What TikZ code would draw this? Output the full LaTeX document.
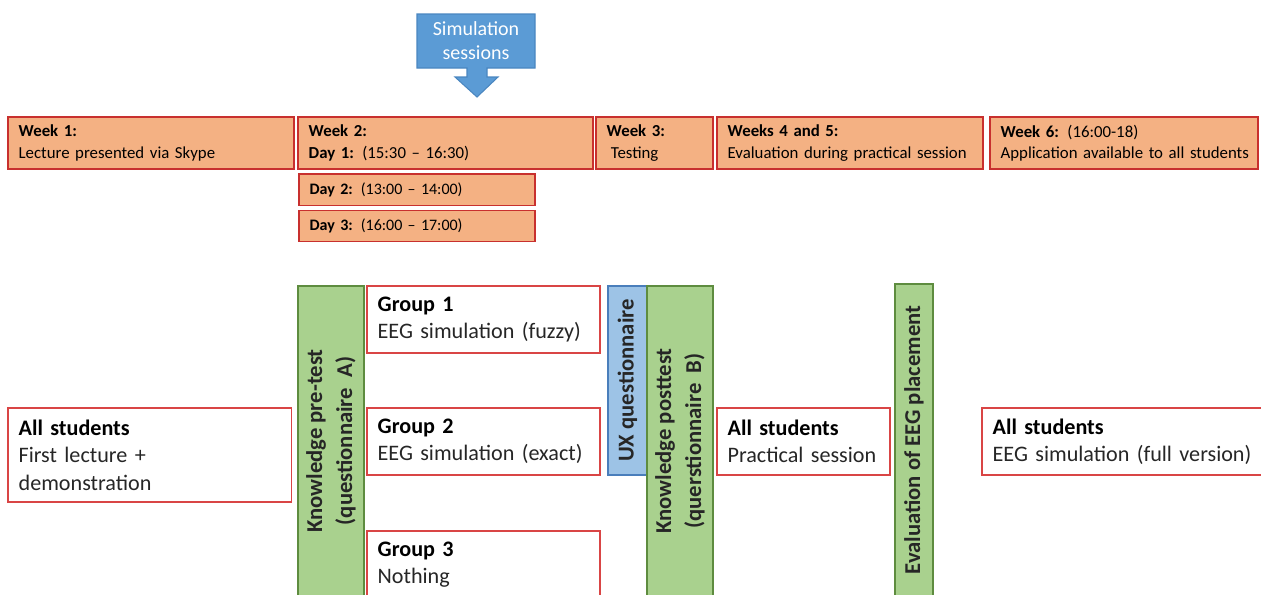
\documentclass[tikz,border=0pt]{standalone}
\usepackage{fontspec}
\setmainfont{Carlito}
\usetikzlibrary{positioning}

\definecolor{weekfill}{HTML}{F4B183}
\definecolor{weekline}{HTML}{C8302E}
\definecolor{groupline}{HTML}{D94545}
\definecolor{testfill}{HTML}{A9D18E}
\definecolor{testline}{HTML}{5E8C3F}
\definecolor{uxfill}{HTML}{9DC3E6}
\definecolor{uxline}{HTML}{4A7EBB}
\definecolor{simfill}{HTML}{5B9BD5}
\definecolor{simline}{HTML}{4A86C0}
\definecolor{bodytext}{HTML}{262626}

\begin{document}
\begin{tikzpicture}[
        x=0.75pt, y=-0.75pt,
        every node/.style={inner sep=0pt, outer sep=0pt},
        week/.style={draw=weekline, fill=weekfill, line width=0.9pt, align=left,
            inner xsep=8pt, text width=#1, minimum height=39pt,
            font=\fontsize{12.6}{16}\selectfont},
        day/.style={week=161pt, minimum height=23.5pt, font=\fontsize{12}{16}\selectfont},
        group/.style={draw=groupline, fill=white, line width=0.9pt, align=left,
            inner xsep=8pt, text width=#1, minimum height=50.25pt,
            text=bodytext, font=\fontsize{16.6}{20.5}\selectfont},
        testbar/.style={draw=testline, fill=testfill, line width=0.9pt, rotate=90,
            align=center, font=\fontsize{17}{22.5}\selectfont\bfseries, text=bodytext},
        uxbar/.style={testbar, draw=uxline, fill=uxfill}
    ]
    \clip (0,0) rectangle (1261,594);

    % simulation sessions callout
    \filldraw[fill=simfill, draw=simline, line width=0.8pt]
        (417,14) -- (535,14) -- (535,68) -- (487,68) -- (487,77) -- (498,77)
        -- (477,97) -- (455,77) -- (467,77) -- (467,68) -- (417,68) -- cycle;
    \node[text=white, align=center, font=\fontsize{15}{18}\selectfont] (sim) at (476,41) {Simulation\\sessions};

    % weeks
    \node[week=198.5pt, anchor=north west] (week1) at (8,117) {\textbf{Week 1:}\\Lecture presented via Skype};
    \node[week=205.25pt, right=3pt of week1.north east, anchor=north west] (week2) {\textbf{Week 2:}\\\textbf{Day 1:} (15:30 -- 16:30)};
    \node[week=71.75pt, right=2.25pt of week2.north east, anchor=north west] (week3) {\textbf{Week 3:}\\\hspace*{0.25em}Testing};
    \node[week=183.5pt, right=3pt of week3.north east, anchor=north west] (week45) {\textbf{Weeks 4 and 5:}\\Evaluation during practical session};
    \node[week=185pt, right=5.25pt of week45.north east, anchor=north west] (week6) {\textbf{Week 6:}\hspace{0.5em}(16:00-18)\\\mbox{Application available to all students}};
    \node[day, below right=3.75pt and 0.75pt of week2.south west, anchor=north west] (day2) {\textbf{Day 2:} (13:00 -- 14:00)};
    \node[day, below=3.75pt of day2.south west, anchor=north west] (day3) {\textbf{Day 3:}\hspace{0.5em}(16:00 -- 17:00)};

    % tests and questionnaires
    \node[testbar, minimum width=232.5pt, minimum height=49.5pt] (pretest) at (331,441) {Knowledge pre-test\\(questionnaire~ A)};
    \node[uxbar, minimum width=141.75pt, minimum height=29.25pt] (ux) at (627.5,380.5) {UX questionnaire};
    \node[testbar, minimum width=232.5pt, minimum height=49.5pt] (posttest) at (680,441) {Knowledge posttest\\(querstionnaire~ B)};
    \node[testbar, minimum width=234pt, minimum height=28.5pt] (evaluation) at (914,440) {Evaluation of EEG placement};

    % groups
    \node[group=196.5pt, minimum height=70.5pt, anchor=north west] (all1) at (8,408) {\textcolor{black}{\textbf{All students}}\\First lecture +\\demonstration};
    \node[group=158.75pt, anchor=north west] (group1) at (367,286) {\textcolor{black}{\textbf{Group 1}}\\EEG simulation (fuzzy)};
    \node[group=158.75pt, anchor=north west] (group2) at (367,408) {\textcolor{black}{\textbf{Group 2}}\\EEG simulation (exact)};
    \node[group=158.75pt, anchor=north west] (group3) at (367,531) {\textcolor{black}{\textbf{Group 3}}\\Nothing};
    \node[group=113.75pt, anchor=north west] (all2) at (717,408) {\textcolor{black}{\textbf{All students}}\\Practical session};
    \node[group=204pt, anchor=north west] (all3) at (982,408) {\textcolor{black}{\textbf{All students}}\\EEG simulation (full version)};
\end{tikzpicture}
\end{document}
